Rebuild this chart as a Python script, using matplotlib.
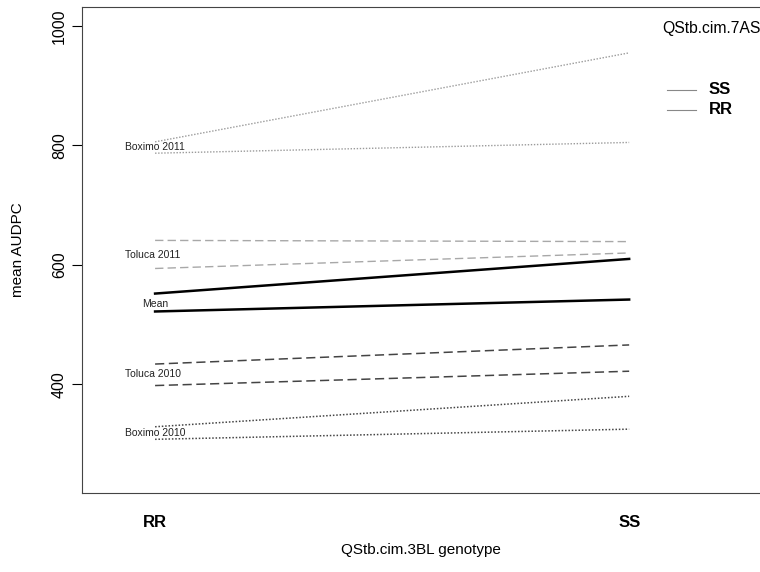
import matplotlib.pyplot as plt

plt.rcParams['font.family'] = ['Liberation Sans', 'DejaVu Sans']

# genotype levels on the x axis (QStb.cim.3BL)
genotypes = ["RR", "SS"]

# mean AUDPC per environment, one line per QStb.cim.7AS genotype
boximo_2011_ss = [806, 955]
boximo_2011_rr = [787, 805]
toluca_2011_ss = [641, 639]
toluca_2011_rr = [594, 620]
mean_ss = [552, 610]
mean_rr = [522, 542]
toluca_2010_ss = [434, 466]
toluca_2010_rr = [398, 422]
boximo_2010_ss = [329, 380]
boximo_2010_rr = [308, 325]

env_labels = ["Boximo 2011", "Toluca 2011", "Mean", "Toluca 2010", "Boximo 2010"]
label_y = [797, 617, 535, 418, 318]

x = [1, 2]

fig = plt.figure(figsize=(7.6, 5.72), dpi=100)
ax = fig.add_axes([0.108, 0.138, 0.892, 0.850])

series = [
    (boximo_2011_ss, boximo_2011_rr, (0, (1, 1.2)), "#9a9a9a", 1.0),
    (toluca_2011_ss, toluca_2011_rr, (0, (6, 3)), "#a8a8a8", 1.0),
    (mean_ss, mean_rr, "-", "black", 1.8),
    (toluca_2010_ss, toluca_2010_rr, (0, (6, 3)), "#444444", 1.1),
    (boximo_2010_ss, boximo_2010_rr, (0, (1, 1.2)), "#444444", 1.1),
]
for ss, rr, ls, col, lw in series:
    ax.plot(x, ss, linestyle=ls, color=col, linewidth=lw)
    ax.plot(x, rr, linestyle=ls, color=col, linewidth=lw)

for name, yv in zip(env_labels, label_y):
    xpos = 0.973 if name == "Mean" else 0.937
    ax.text(xpos, yv, name, fontsize=7.5, color="#222222", ha="left", va="center")

ax.set_xlim(0.846, 2.276)
ax.set_ylim(218, 1032)
ax.set_yticks([400, 600, 800, 1000])
ax.tick_params(axis="y", labelsize=11.5, length=7, labelrotation=90, pad=4)
for lab in ax.get_yticklabels():
    lab.set_va("center")
ax.set_xticks(x)
ax.set_xticklabels(genotypes, fontsize=12, fontweight="bold")
ax.tick_params(axis="x", length=0, pad=16)
ax.set_ylabel("mean AUDPC", fontsize=11, labelpad=19)
ax.set_xlabel("QStb.cim.3BL genotype", fontsize=11, labelpad=9)
ax.spines["right"].set_visible(False)
for s in ["left", "bottom", "top"]:
    ax.spines[s].set_color("#444444")

# legend for QStb.cim.7AS genotypes
ax.text(2.07, 995, "QStb.cim.7AS", fontsize=11.3, ha="left", va="center")
ax.plot([2.08, 2.14], [893, 893], color="#888888", linewidth=0.8)
ax.plot([2.08, 2.14], [860, 860], color="#888888", linewidth=0.8)
ax.text(2.168, 893, "SS", fontsize=12, fontweight="bold", ha="left", va="center")
ax.text(2.168, 860, "RR", fontsize=12, fontweight="bold", ha="left", va="center")

fig.savefig("out.png", dpi=100)
